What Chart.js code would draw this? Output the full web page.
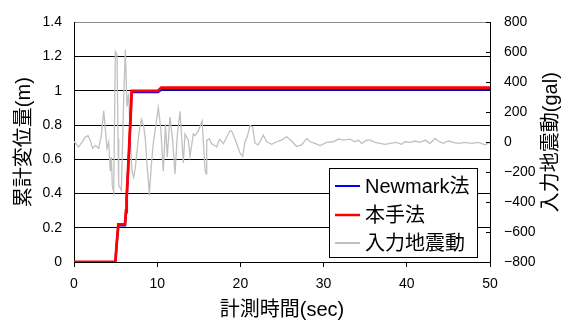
<!DOCTYPE html>
<html>
<head>
<meta charset="utf-8">
<script src="https://cdn.jsdelivr.net/npm/chart.js@4/dist/chart.umd.min.js"></script>
<style>
html,body{margin:0;padding:0;background:#fff;}
canvas{display:block;}
</style>
</head>
<body>
<canvas id="c" width="567" height="322"></canvas>
<script>
// ---- data ----
const seriesNames = ['Newmark法', '本手法', '入力地震動'];
const axisTitles = { x: '計測時間(sec)', y: '累計変位量(m)', y1: '入力地震動(gal)' };
const xTickLabels = ['0', '10', '20', '30', '40', '50'];
const leftTickLabels = ['0', '0.2', '0.4', '0.6', '0.8', '1', '1.2', '1.4'];
const rightTickLabels = ['−800', '−600', '−400', '−200', '0', '200', '400', '600', '800'];

// 本手法 (red) displacement [m]
const honTime = [0, 4.97, 5.13, 5.33, 6.13, 6.25, 6.33, 6.53, 6.65, 6.81, 6.93, 10.1, 10.5, 50];
const honDisp = [0, 0, 0.106, 0.22, 0.22, 0.30, 0.38, 0.57, 0.69, 0.86, 1.0, 1.0, 1.019, 1.019];

// Newmark法 (blue) displacement [m]
const newTime = [0, 4.97, 5.13, 5.33, 6.13, 6.25, 6.33, 6.53, 6.65, 6.81, 6.93, 10.1, 10.5, 50];
const newDisp = [0, 0, 0.10, 0.214, 0.214, 0.29, 0.37, 0.56, 0.68, 0.85, 0.992, 0.992, 1.007, 1.007];

// 入力地震動 (gray) acceleration [gal]
const eqTime = [0, 0.56, 0.96, 1.36, 1.68, 1.96, 2.24, 2.56, 2.97, 3.28, 3.57, 3.77, 3.97, 4.17, 4.36, 4.5, 4.6, 4.77,
  4.97, 5.17, 5.29, 5.37, 5.69, 5.97, 6.17, 6.37, 6.57, 6.77, 6.97, 7.17, 7.37, 7.77, 8.09, 8.37, 8.57, 8.77, 8.97,
  9.05, 9.3, 9.53, 10.13, 10.42, 10.73, 11.0, 11.2, 11.54, 11.86, 12.14, 12.42, 12.74, 13.14, 13.34, 13.74, 13.94,
  14.34, 14.54, 14.94, 15.4, 15.75, 15.87, 15.95, 16.27, 16.55, 17.15, 17.5, 17.95, 18.75, 18.95, 19.56, 19.95,
  20.27, 20.55, 20.83, 21.15, 21.47, 21.75, 22.15, 22.76, 23.16, 23.76, 24.36, 24.96, 25.56, 26.16, 26.76, 27.36,
  27.97, 28.37, 28.97, 29.57, 30.37, 31.17, 31.77, 32.37, 33.17, 33.77, 34.18, 34.58, 35.18, 35.58, 36.18, 36.78,
  37.38, 37.98, 38.78, 39.38, 39.78, 40.38, 40.99, 41.59, 42.19, 42.79, 43.39, 43.79, 44.39, 44.99, 45.59, 46.19,
  46.99, 47.8, 48.6, 49.4, 50];
const eqAcc = [5, -31, 0, 34, 44, 12, -42, -21, -42, 44, 210, 87, -42, 1, -193, -100, -290, -333,
  605, 584, 23, -285, -323, 282, 618, 238, 325, 23, -193, -236, -172, 44, 152, 109, 23, -150, -280,
  -355, -150, -10, 230, 100, -193, 120, -100, 170, 12, -212, 50, 206, -139, 55, 12, -96,
  55, 44, 76, 141, -183, -212, 12, 23, -10, -31, 20, -10, 76, 76, -10, -72,
  -94, 3, 36, 111, 100, -8, -18, 47, 3, -14, 3, 14, 36, 8, -29, -18,
  25, 3, -8, -23, -1, 3, 21, 14, 21, 3, 14, -8, 14, 14, -1, -8,
  -14, -8, -1, -14, 3, -1, 8, -1, 14, -8, 25, 8, -8, 8, -1, -8,
  -1, -8, -1, -18, -1];

const toXY = (xs, ys) => xs.map((x, i) => ({ x: x, y: ys[i] }));

const LATIN_CJK = '"Liberation Sans", "Noto Sans CJK JP", sans-serif';
const seriesColors = ['#0000ff', '#ff0000', '#c0c0c0'];

const titlesAndLegend = {
  id: 'titlesAndLegend',
  afterDraw(chart) {
    const ctx = chart.ctx;
    const ca = chart.chartArea;
    const y1 = chart.scales.y1;
    // inward tick marks on the right axis
    ctx.save();
    ctx.strokeStyle = '#000';
    ctx.lineWidth = 1;
    y1.ticks.forEach(t => {
      const py = Math.round(y1.getPixelForValue(t.value)) + 0.5;
      ctx.beginPath();
      ctx.moveTo(ca.right - 4, py);
      ctx.lineTo(ca.right, py);
      ctx.stroke();
    });
    ctx.restore();

    // axis titles
    ctx.save();
    ctx.fillStyle = '#000';
    ctx.font = '20px ' + LATIN_CJK;
    ctx.textAlign = 'center';
    ctx.textBaseline = 'middle';
    ctx.fillText(axisTitles.x, (ca.left + ca.right) / 2, 310);
    ctx.save();
    ctx.translate(24, (ca.top + ca.bottom) / 2);
    ctx.rotate(-Math.PI / 2);
    ctx.fillText(axisTitles.y, 0, 0);
    ctx.restore();
    ctx.save();
    ctx.translate(551, (ca.top + ca.bottom) / 2);
    ctx.rotate(-Math.PI / 2);
    ctx.fillText(axisTitles.y1, 0, 0);
    ctx.restore();
    ctx.restore();

    // legend
    ctx.save();
    const bx = 329.5, by = 168.5, bw = 148, bh = 89;
    ctx.fillStyle = '#fff';
    ctx.fillRect(bx, by, bw, bh);
    ctx.strokeStyle = '#000';
    ctx.lineWidth = 1;
    ctx.strokeRect(bx, by, bw, bh);
    const rows = [186, 215, 243];
    const widths = [2, 2.5, 2];
    ctx.font = '20px ' + LATIN_CJK;
    ctx.textAlign = 'left';
    ctx.textBaseline = 'middle';
    seriesNames.forEach((name, i) => {
      ctx.strokeStyle = seriesColors[i];
      ctx.lineWidth = widths[i];
      ctx.beginPath();
      ctx.moveTo(335, rows[i]);
      ctx.lineTo(360, rows[i]);
      ctx.stroke();
      ctx.fillStyle = '#000';
      ctx.fillText(name, 365, rows[i] + 1);
    });
    ctx.restore();
  }
};

new Chart(document.getElementById('c'), {
  type: 'line',
  data: {
    datasets: [
      { label: seriesNames[0], data: toXY(newTime, newDisp), borderColor: seriesColors[0], borderWidth: 2.2,
        pointRadius: 0, tension: 0, yAxisID: 'y', order: 1 },
      { label: seriesNames[1], data: toXY(honTime, honDisp), borderColor: seriesColors[1], borderWidth: 2.8,
        pointRadius: 0, tension: 0, yAxisID: 'y', order: 0 },
      { label: seriesNames[2], data: toXY(eqTime, eqAcc), borderColor: seriesColors[2], borderWidth: 1.3,
        pointRadius: 0, tension: 0, yAxisID: 'y1', order: 2 }
    ]
  },
  options: {
    responsive: false,
    devicePixelRatio: 1,
    animation: false,
    layout: { padding: { top: 15, left: 0, right: 0, bottom: 0 } },
    plugins: { legend: { display: false }, tooltip: { enabled: false } },
    scales: {
      x: {
        type: 'linear', min: 0, max: 50,
        ticks: { stepSize: 10, color: '#000', padding: 9, maxRotation: 0,
          font: { family: LATIN_CJK, size: 14 },
          callback: (v, i) => xTickLabels[i] },
        grid: { drawOnChartArea: false, drawTicks: true, tickLength: 5, color: '#000' },
        border: { color: '#000' },
        afterFit: s => { s.height = 60; }
      },
      y: {
        position: 'left', min: 0, max: 1.4,
        ticks: { stepSize: 0.2, color: '#000', padding: 12,
          font: { family: LATIN_CJK, size: 14 },
          callback: (v, i) => leftTickLabels[i] },
        grid: { drawTicks: false, color: c => (c.tick && c.tick.value > 1.39 ? '#8c8c8c' : '#000') },
        border: { color: '#000' },
        afterFit: s => { s.width = 74; }
      },
      y1: {
        position: 'right', min: -800, max: 800,
        ticks: { stepSize: 200, color: '#000', padding: 14,
          font: { family: LATIN_CJK, size: 14 },
          callback: (v, i) => rightTickLabels[i] },
        grid: { display: false, drawTicks: false },
        border: { color: '#000' },
        afterFit: s => { s.width = 77; }
      }
    }
  },
  plugins: [titlesAndLegend]
});
</script>
</body>
</html>
